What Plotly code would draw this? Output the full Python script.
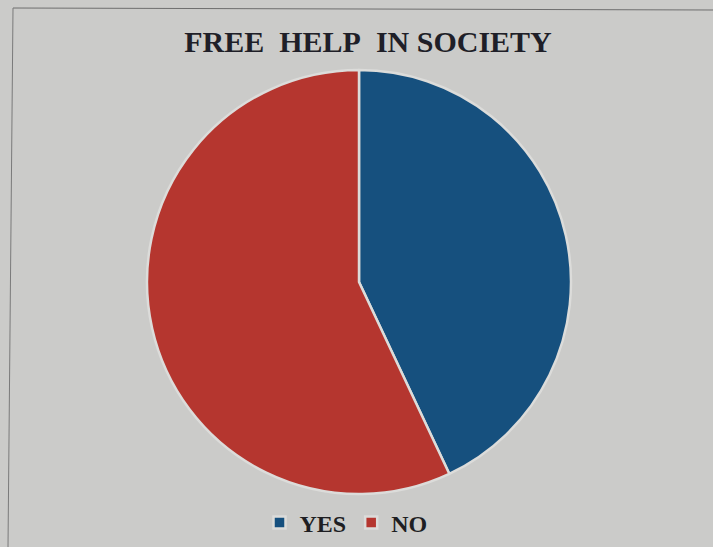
import plotly.graph_objects as go

labels = ["YES", "NO"]
values = [43, 57]
colors = ["#16507e", "#b5362f"]
title_text = "FREE&nbsp; HELP&nbsp; IN SOCIETY"

W, H = 713, 547
BG = "#cbcbc9"

fig = go.Figure()
fig.add_trace(go.Pie(
    labels=labels,
    values=values,
    marker=dict(colors=colors, line=dict(color="#dcdcda", width=2.5)),
    sort=False,
    direction="clockwise",
    rotation=0,
    textinfo="none",
    hoverinfo="label+percent",
    domain=dict(x=[147 / W, 571 / W], y=[1 - 494 / H, 1 - 70 / H]),
))

fig.update_layout(
    width=W, height=H,
    margin=dict(l=0, r=0, t=0, b=0),
    paper_bgcolor=BG,
    plot_bgcolor=BG,
    title=dict(
        text="<b>" + title_text + "</b>",
        x=368 / W, xanchor="center",
        y=1 - 41 / H, yanchor="middle",
        font=dict(family="Liberation Serif", size=30, color="#1f1f28"),
    ),
    showlegend=True,
    legend=dict(
        orientation="h",
        x=346 / W, xanchor="center",
        y=1 - 523 / H, yanchor="middle",
        font=dict(family="Liberation Serif", size=24, color="#1e1e22", weight="bold"),
        bgcolor="rgba(0,0,0,0)",
        itemwidth=30,
        traceorder="normal",
    ),
    shapes=[
        dict(type="line", xref="paper", yref="paper",
             x0=13 / W, y0=1 - 8 / H, x1=1.0, y1=1 - 10 / H,
             line=dict(color="#6e6e6e", width=1)),
        dict(type="line", xref="paper", yref="paper",
             x0=13 / W, y0=1 - 8 / H, x1=8 / W, y1=0,
             line=dict(color="#7a7a7a", width=1)),
    ],
)

fig.write_html(
    "out.html",
    config={"displayModeBar": False},
    post_script="document.body.style.margin='0';document.body.style.background='" + BG + "';document.body.style.overflow='hidden';",
)
